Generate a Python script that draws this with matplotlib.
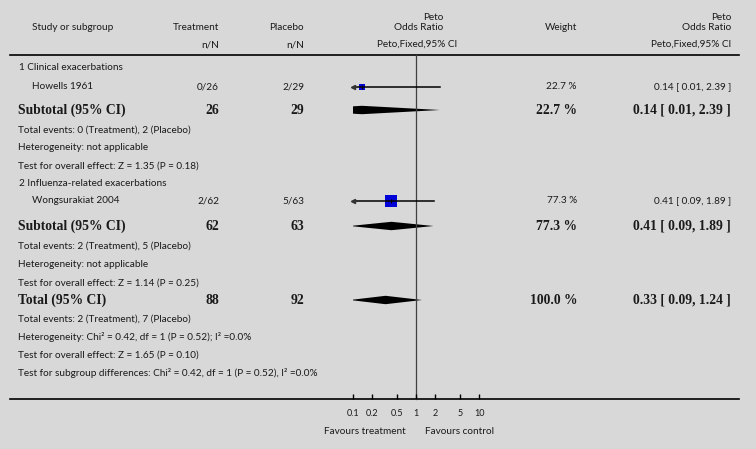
import matplotlib.pyplot as plt

# study level data
studies = ["Howells 1961", "Wongsurakiat 2004"]
groups = ["1 Clinical exacerbations", "2 Influenza-related exacerbations"]
treat_events = [0, 2]
treat_n = [26, 62]
plac_events = [2, 5]
plac_n = [29, 63]
weights = [22.7, 77.3]
odds = [0.14, 0.41]
ci_lo = [0.01, 0.09]
ci_hi = [2.39, 1.89]

# subgroup notes
sub_het = ["Heterogeneity: not applicable", "Heterogeneity: not applicable"]
sub_test = ["Test for overall effect: Z = 1.35 (P = 0.18)",
            "Test for overall effect: Z = 1.14 (P = 0.25)"]

# overall
total_n = [88, 92]
total_events = [2, 7]
total_or = [0.33, 0.09, 1.24]
total_weight = 100.0
total_notes = [
    "Heterogeneity: Chi\u00b2 = 0.42, df = 1 (P = 0.52); I\u00b2 =0.0%",
    "Test for overall effect: Z = 1.65 (P = 0.10)",
    "Test for subgroup differences: Chi\u00b2 = 0.42, df = 1 (P = 0.52), I\u00b2 =0.0%",
]
ticks = [0.1, 0.2, 0.5, 1, 2, 5, 10]
tick_labels = ["0.1", "0.2", "0.5", "1", "2", "5", "10"]

W, H = 756, 449
bg = "#d8d8d8"
ink = "#1a1a1a"
sans = "Lato"
serif = "Liberation Serif"
fs = 7.2
fb = 9.8

fig = plt.figure(figsize=(W / 100, H / 100), dpi=100)
fig.patch.set_facecolor(bg)

# text layer in pixel coords
ax = fig.add_axes([0, 0, 1, 1])
ax.set_xlim(0, W)
ax.set_ylim(H, 0)
ax.axis("off")

# forest layer, log scale between 0.1 and 10
x01, x10 = 352.7, 479.3
af = fig.add_axes([x01 / W, 0, (x10 - x01) / W, 1])
af.set_xscale("log")
af.set_xlim(0.1, 10)
af.set_ylim(H, 0)
af.axis("off")
af.patch.set_alpha(0)


def small(x, y, s, ha="left"):
    ax.text(x, y, s, ha=ha, va="center", fontsize=fs, family=sans, color=ink)


def bold(x, y, s, ha="left"):
    ax.text(x, y, s, ha=ha, va="center", fontsize=fb, family=serif,
            weight="bold", color=ink)


# header
small(32, 27, "Study or subgroup")
small(219, 27, "Treatment", ha="right")
small(304, 27, "Placebo", ha="right")
small(219, 44.5, "n/N", ha="right")
small(304, 44.5, "n/N", ha="right")
small(443, 17.5, "Peto", ha="right")
small(443, 27.5, "Odds Ratio", ha="right")
small(417, 44.5, "Peto,Fixed,95% CI", ha="center")
small(561, 27.5, "Weight", ha="center")
small(731, 17.5, "Peto", ha="right")
small(731, 27.5, "Odds Ratio", ha="right")
small(731, 44.5, "Peto,Fixed,95% CI", ha="right")
ax.plot([10, 739], [55, 55], color="black", lw=1.2)
ax.plot([10, 739], [398.5, 398.5], color="black", lw=1.2)

# line of no effect
af.plot([1, 1], [55, 398.5], color="#404040", lw=0.9)


def diamond(y, est, lo, hi, h=4.2):
    af.fill([lo, est, hi, est], [y, y - h, y, y + h], color="black", lw=0)


group_rows = [(67.7, 86.5, 110, 130, 148, 166), (184, 200.5, 226, 246, 264.5, 283)]
for i, rows in enumerate(group_rows):
    yg, ys, ysub, yev, yhet, ytest = rows
    small(19, yg, groups[i])
    small(32, ys, studies[i])
    small(219, ys, f"{treat_events[i]}/{treat_n[i]}", ha="right")
    small(304, ys, f"{plac_events[i]}/{plac_n[i]}", ha="right")
    small(577, ys, f"{weights[i]} %", ha="right")
    small(731, ys, f"{odds[i]:.2f} [ {ci_lo[i]:.2f}, {ci_hi[i]:.2f} ]", ha="right")

    # CI line, with arrow when it runs off the scale
    lo = max(ci_lo[i], 0.1)
    af.plot([lo, ci_hi[i]], [ys, ys], color="black", lw=1.1, zorder=3)
    if ci_lo[i] < 0.1:
        af.plot([0.1], [ys], marker="<", ms=3, color="#333333", clip_on=False, zorder=3)
    ms = 8.6 * (weights[i] / 77.3) ** 0.5
    af.plot([odds[i]], [ys], marker="s", ms=ms, color="#0000d8", mew=0, zorder=2)
    af.plot([odds[i]], [ys], marker="|", ms=3, color="black", mew=0.8, zorder=3)

    bold(18, ysub, "Subtotal (95% CI)")
    bold(219, ysub, str(treat_n[i]), ha="right")
    bold(304, ysub, str(plac_n[i]), ha="right")
    bold(577, ysub, f"{weights[i]} %", ha="right")
    bold(731, ysub, f"{odds[i]:.2f} [ {ci_lo[i]:.2f}, {ci_hi[i]:.2f} ]", ha="right")
    diamond(ysub, odds[i], ci_lo[i], ci_hi[i])

    small(18, yev, f"Total events: {treat_events[i]} (Treatment), {plac_events[i]} (Placebo)")
    small(18, yhet, sub_het[i])
    small(18, ytest, sub_test[i])

# overall
yt = 300
bold(18, yt, "Total (95% CI)")
bold(219, yt, str(total_n[0]), ha="right")
bold(304, yt, str(total_n[1]), ha="right")
bold(577, yt, f"{total_weight:.1f} %", ha="right")
bold(731, yt, f"{total_or[0]:.2f} [ {total_or[1]:.2f}, {total_or[2]:.2f} ]", ha="right")
diamond(yt, total_or[0], total_or[1], total_or[2])
small(18, 319, f"Total events: {total_events[0]} (Treatment), {total_events[1]} (Placebo)")
for y, s in zip([337, 355, 373], total_notes):
    small(18, y, s)

# scale
af.vlines(ticks, 393.5, 398.5, color="black", lw=1, clip_on=False)
for t, lab in zip(ticks, tick_labels):
    af.text(t, 413, lab, ha="center", va="center", fontsize=6.5, family=sans, color=ink)
small(406, 432, "Favours treatment", ha="right")
small(425, 432, "Favours control")

fig.savefig("out.png", dpi=100, facecolor=bg)
